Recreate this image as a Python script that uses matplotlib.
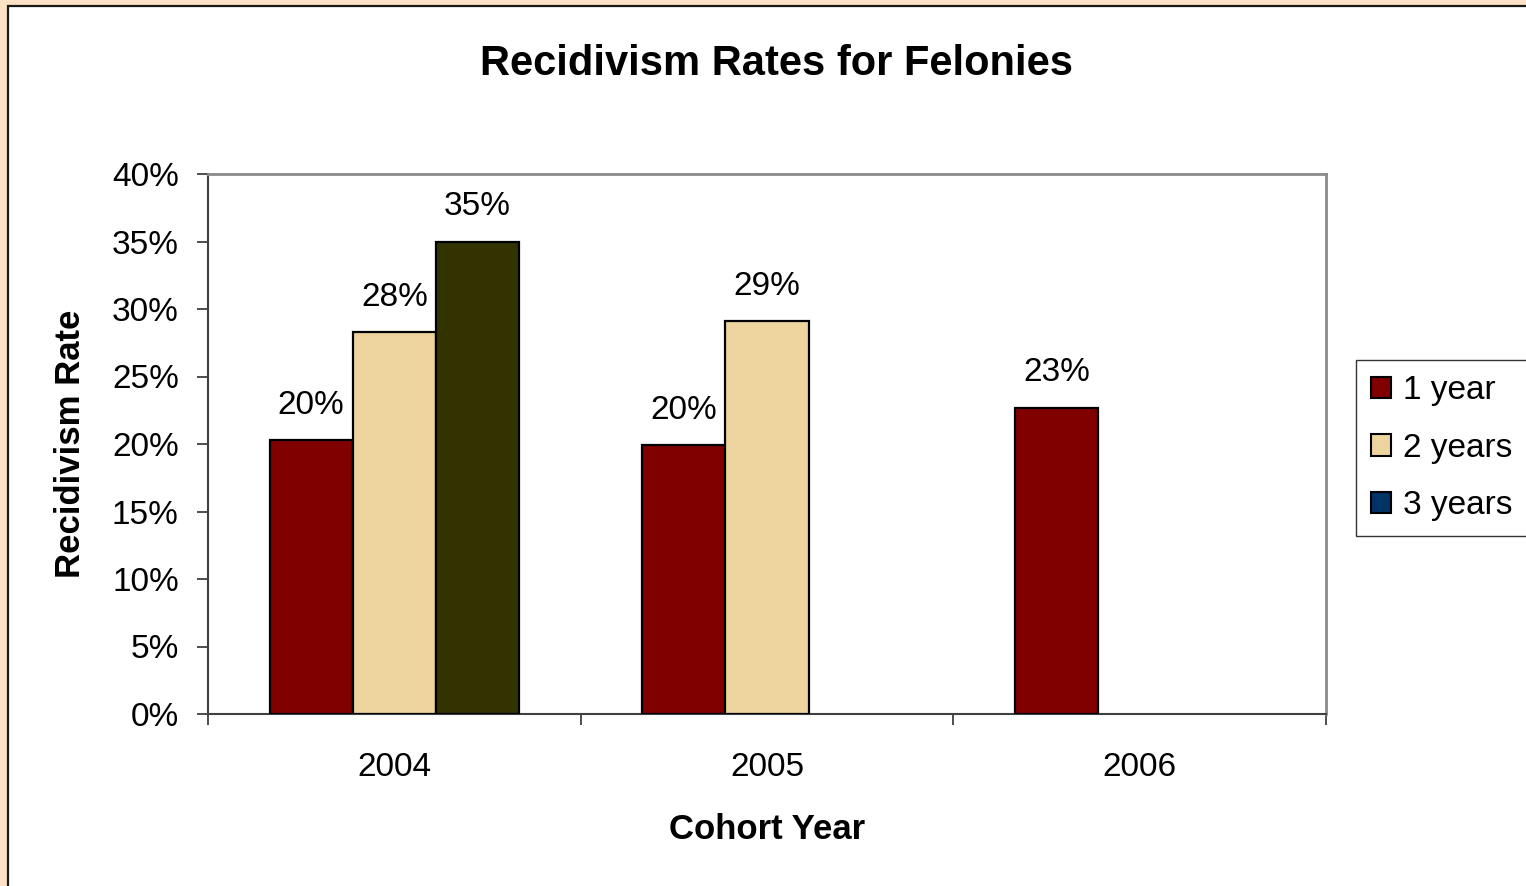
import numpy as np
import matplotlib
matplotlib.use("Agg")
import matplotlib.pyplot as plt
from matplotlib.patches import Rectangle, Patch
from matplotlib.ticker import PercentFormatter, FixedLocator, NullFormatter

# Recidivism rates by cohort year and follow-up period (fraction of cohort)
cohorts = ["2004", "2005", "2006"]
series_names = ["1 year", "2 years", "3 years"]
one_year = [0.203, 0.199, 0.227]
two_years = [0.283, 0.291, np.nan]
three_years = [0.350, np.nan, np.nan]
y_ticks = [0.0, 0.05, 0.10, 0.15, 0.20, 0.25, 0.30, 0.35, 0.40]

bar_colors = ["#800000", "#EDD49E", "#333300"]
legend_colors = ["#800000", "#EDD49E", "#003366"]

plt.rcParams["font.family"] = ["Liberation Sans", "DejaVu Sans"]

W, H = 1526, 886
fig = plt.figure(figsize=(W / 100, H / 100), dpi=100, facecolor="#FFE2C6")

# white chart area with its dark frame running off the right and bottom edges
fig.patches.append(Rectangle((7.5 / W, -0.1), 1.2, (H - 6.5) / H + 0.1,
                             transform=fig.transFigure, facecolor="white",
                             edgecolor="#1a1a1a", linewidth=1.6, zorder=-10))

ax = fig.add_axes([208 / W, (H - 714) / H, (1326 - 208) / W, (714 - 174) / H])
ax.set_zorder(1)
ax.set_facecolor("white")

x = np.arange(len(cohorts))
width = 0.223
offsets = [-width, 0.0, width]
series = [one_year, two_years, three_years]

for vals, off, col in zip(series, offsets, bar_colors):
    vals = np.asarray(vals, dtype=float)
    mask = ~np.isnan(vals)
    bars = ax.bar(x[mask] + off, vals[mask], width=width, color=col,
                  edgecolor="black", linewidth=1.6, zorder=3)
    for rect, v in zip(bars, vals[mask]):
        ax.annotate(f"{v:.0%}", (rect.get_x() + rect.get_width() / 2, v),
                    xytext=(0, 19), textcoords="offset points",
                    ha="center", va="baseline", fontsize=24, color="black")

ax.set_xlim(-0.5, len(cohorts) - 0.5)
ax.set_ylim(0, 0.40)
ax.set_yticks(y_ticks)
ax.yaxis.set_major_formatter(PercentFormatter(1.0, decimals=0))

# category boundaries carry the tick marks, centers carry the labels
ax.xaxis.set_major_locator(FixedLocator(np.arange(len(cohorts) + 1) - 0.5))
ax.xaxis.set_major_formatter(NullFormatter())
ax.xaxis.set_minor_locator(FixedLocator(x))
ax.set_xticks(x, cohorts, minor=True)
ax.tick_params(axis="x", which="minor", length=0, pad=27, labelsize=24)
ax.tick_params(axis="x", which="major", length=8, width=1.3, direction="out",
               color="#404040")
ax.tick_params(axis="y", length=8, width=1.3, direction="out", color="#404040",
               labelsize=24, pad=13)

for side in ("top", "right"):
    ax.spines[side].set_color("#8a8a8a")
    ax.spines[side].set_linewidth(2.0)
for side in ("left", "bottom"):
    ax.spines[side].set_color("#404040")
    ax.spines[side].set_linewidth(1.5)

ax.set_xlabel("Cohort Year", fontsize=25, fontweight="bold", labelpad=22)
ax.set_ylabel("Recidivism Rate", fontsize=25, fontweight="bold", labelpad=18)

fig.text(776 / W, 1 - 64 / H, "Recidivism Rates for Felonies",
         ha="center", va="center", fontsize=30, fontweight="bold")

handles = [Patch(facecolor=c, edgecolor="black", linewidth=1.5) for c in legend_colors]
leg = fig.legend(handles, series_names, loc="upper left",
                 bbox_to_anchor=(1356 / W, 1 - 360 / H),
                 bbox_transform=fig.transFigure, borderaxespad=0,
                 fontsize=24, frameon=True, fancybox=False, shadow=False,
                 handlelength=0.6, handleheight=0.6, handletextpad=0.35,
                 labelspacing=0.8, borderpad=0.45)
leg.get_frame().set_edgecolor("black")
leg.get_frame().set_linewidth(1.0)
leg.get_frame().set_facecolor("white")

fig.savefig("out.png", dpi=100, facecolor=fig.get_facecolor())
